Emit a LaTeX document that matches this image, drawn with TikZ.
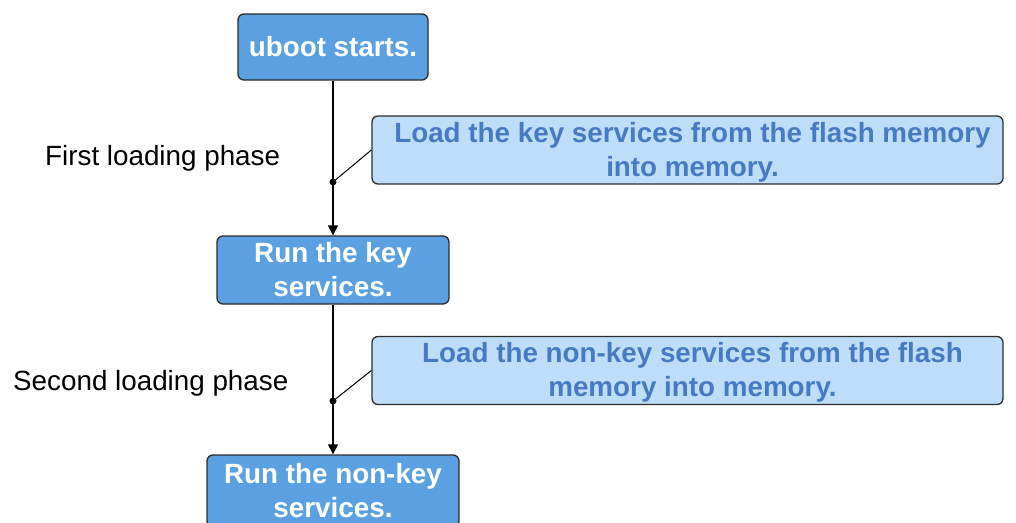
\documentclass[tikz,border=0pt]{standalone}
\usepackage{fontspec}
\setmainfont{Liberation Sans}
\usetikzlibrary{arrows.meta}
\definecolor{stepfill}{RGB}{91,161,226}
\definecolor{notefill}{RGB}{189,221,249}
\definecolor{notetext}{RGB}{72,122,196}
\definecolor{edge}{RGB}{45,45,45}
\tikzset{
  stepbox/.style={draw=edge, line width=1.3pt, fill=stepfill, rounded corners=6pt,
    text=white, font=\fontsize{27.8}{34}\selectfont\bfseries, align=center, inner sep=0pt},
  notebox/.style={draw=edge, line width=1.3pt, fill=notefill, rounded corners=6pt,
    text=notetext, font=\fontsize{27.8}{34}\selectfont\bfseries, align=center, inner sep=0pt,
    minimum width=631pt, minimum height=68pt},
  phase/.style={font=\fontsize{27.8}{34}\selectfont, anchor=west, inner sep=0pt},
  flow/.style={line width=1.3pt, -{Triangle[length=10pt,width=10pt]}},
  tie/.style={line width=1pt},
  junction/.style={circle, fill=black, inner sep=0pt, minimum size=7pt}
}
\begin{document}
\begin{tikzpicture}[x=1pt,y=1pt]
\useasboundingbox (0,0) rectangle (1016,-522);
% main flow steps
\node[stepbox, minimum width=190pt, minimum height=66pt] (boot) at (333,-47) {uboot starts.};
\node[stepbox, minimum width=232pt, minimum height=68pt] (runkey) at (333,-270) {Run the key\\services.};
\node[stepbox, minimum width=252pt, minimum height=72pt] (runnon) at (333,-491) {Run the non-key\\services.};
% loading notes (text sits slightly right of the box centre)
\node[notebox] (loadkey) at (687.5,-150) {};
\node[notebox, draw=none, fill=none, yshift=-2pt, xshift=5pt] (loadkeytext) at (loadkey.center)
  {Load the key services from the flash memory\\into memory.};
\node[notebox] (loadnon) at (687.5,-370.5) {};
\node[notebox, draw=none, fill=none, yshift=-2pt, xshift=5pt] (loadnontext) at (loadnon.center)
  {Load the non-key services from the flash\\memory into memory.};
% phase labels
\node[phase] (first) at (45,-158) {First loading phase};
\node[phase] (second) at (13,-383) {Second loading phase};
% junctions on the flow line
\node[junction] (j1) at (333,-182) {};
\node[junction] (j2) at (333,-401) {};
\draw[flow] (boot.south) -- (runkey.north);
\draw[flow] (runkey.south) -- (runnon.north);
\draw[tie] (j1.center) -- (loadkey.west);
\draw[tie] (j2.center) -- (loadnon.west);
\end{tikzpicture}
\end{document}
